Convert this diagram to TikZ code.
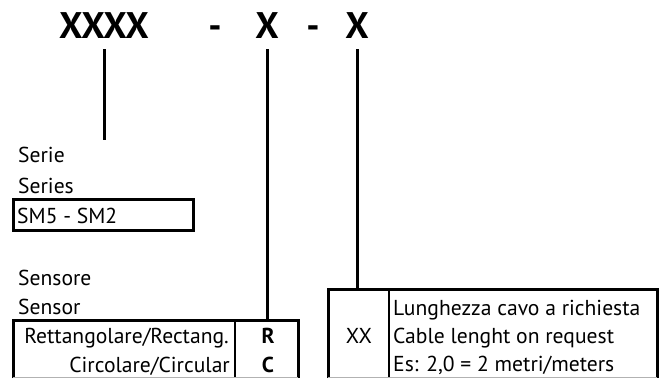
\documentclass[tikz,border=0pt]{standalone}
\usepackage{fontspec}
\setmainfont{PT Sans}
\usetikzlibrary{positioning}
\begin{document}
\begin{tikzpicture}[x=1pt,y=-1pt,
    txt/.style={inner sep=0pt,anchor=base west,font=\fontsize{21.6}{28}\selectfont},
    code/.style={inner sep=0pt,anchor=base,font=\fontsize{37}{40}\selectfont\bfseries},
    lead/.style={line width=3pt},
    boxline/.style={line width=3pt},
    cell/.style={line width=1.5pt},
    cut/.style={gray!60,line width=1pt}]
\useasboundingbox (0,0) rectangle (661,378);
% code
\node[code] (serie) at (104,38) {XXXX};
\node[code] (dasha) at (215,38) {-};
\node[code] (sensore) at (267,38) {X};
\node[code] (dashb) at (313,38) {-};
\node[code] (cavo) at (357,38) {X};
% serie
\coordinate (serieend) at (104,140);
\draw[lead] ([yshift=-11pt]serie.base) -- (serieend);
\node[txt] (lserie) at (18,162) {Serie};
\node[txt] (lseries) at (18,193) {Series};
\draw[boxline] (13,199) rectangle (193,230);
\node[txt] (sm) at (17,223) {SM5 - SM2};
% sensore
\node[txt] (lsensore) at (18,285) {Sensore};
\node[txt] (lsensor) at (18,314) {Sensor};
\coordinate (senstop) at (267,320);
\draw[lead] ([yshift=-11pt]sensore.base) -- (senstop);
\draw[boxline] (13,378) |- (298,320) -- (298,378);
\draw[cell] (235,320) -- (235,378);
\draw[cut] (13,377.5) -- (298,377.5);
\node[txt,anchor=base east] (rett) at (229,343) {Rettangolare/Rectang.};
\node[txt,anchor=base east] (circ) at (230,372) {Circolare/Circular};
\node[txt,anchor=base,font=\fontsize{21.6}{28}\selectfont\bfseries] (r) at (268,343) {R};
\node[txt,anchor=base,font=\fontsize{21.6}{28}\selectfont\bfseries] (c) at (268,372) {C};
% cavo
\coordinate (cavotop) at (357,289);
\draw[lead] ([yshift=-11pt]cavo.base) -- (cavotop);
\draw[boxline] (328,378) |- (657,289) -- (657,378);
\draw[cell] (389,289) -- (389,378);
\draw[cut] (328,377.5) -- (657,377.5);
\node[txt,anchor=base] (xx) at (359,343) {XX};
\node[txt] (lung) at (393,315) {Lunghezza cavo a richiesta};
\node[txt] (cable) at (393,343) {Cable lenght on request};
\node[txt] (es) at (393,371) {Es: 2,0 = 2 metri/meters};
\end{tikzpicture}
\end{document}
